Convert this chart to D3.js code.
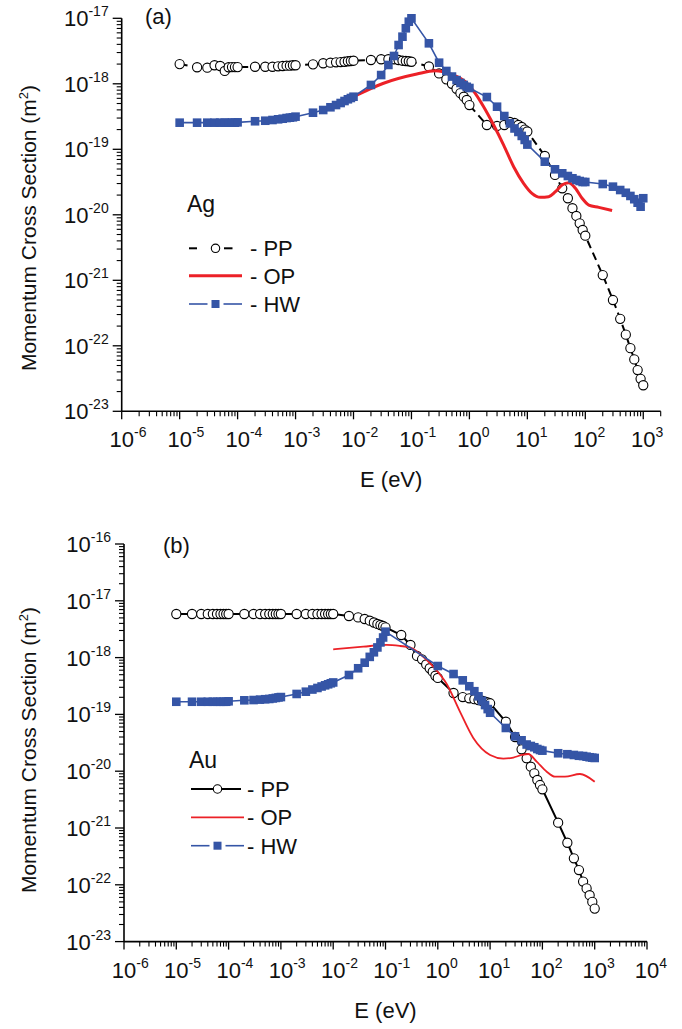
<!DOCTYPE html>
<html lang="en">
<head>
<meta charset="utf-8">
<title>Momentum cross sections, Ag and Au</title>
<script src="https://d3js.org/d3.v7.min.js"></script>
<style>
  body { margin: 0; background: #fff; }
  svg { font-family: "Liberation Sans", Arial, sans-serif; }
</style>
</head>
<body>
<svg width="682" height="1029"></svg>
<script>
// energy grid (eV) shared by the PP and HW curves
var energy = [
  1e-5,2e-5,3e-5,4e-5,5e-5,6e-5,7e-5,8e-5,9e-5,
  1e-4,2e-4,3e-4,4e-4,5e-4,6e-4,7e-4,8e-4,9e-4,
  1e-3,2e-3,3e-3,4e-3,5e-3,6e-3,7e-3,8e-3,9e-3,
  0.01,0.02,0.03,0.04,0.05,0.06,0.07,0.08,0.09,
  0.1,0.2,0.3,0.4,0.5,0.6,0.7,0.8,0.9,
  1,2,3,4,5,6,7,8,9,
  10,20,30,40,50,60,70,80,90,
  100,200,300,400,500,600,700,800,900,
  1000];

// (a) Ag
var agPP = [
  2.00e-18,1.79e-18,1.76e-18,1.92e-18,1.87e-18,1.57e-18,1.79e-18,1.80e-18,1.80e-18,
  1.80e-18,1.82e-18,1.82e-18,1.82e-18,1.85e-18,1.87e-18,1.89e-18,1.89e-18,1.92e-18,
  1.92e-18,1.98e-18,2.06e-18,2.10e-18,2.13e-18,2.15e-18,2.17e-18,2.21e-18,2.23e-18,
  2.25e-18,2.31e-18,2.37e-18,2.37e-18,2.37e-18,2.31e-18,2.25e-18,2.23e-18,2.21e-18,
  2.17e-18,1.84e-18,1.44e-18,1.17e-18,1.00e-18,8.4e-19,7.2e-19,6.35e-19,5.66e-19,
  4.74e-19,2.35e-19,2.27e-19,2.35e-19,2.61e-19,2.52e-19,2.35e-19,2.19e-19,2.00e-19,
  1.87e-19,7.9e-20,4.06e-20,2.54e-20,1.79e-20,1.26e-20,9.6e-21,7.4e-21,5.86e-21,
  4.8e-21,1.2e-21,5.0e-22,2.58e-22,1.48e-22,9.2e-23,6.2e-23,4.26e-23,3.13e-23,
  2.5e-23];
var agHW = [
  2.55e-19,2.55e-19,2.55e-19,2.55e-19,2.55e-19,2.55e-19,2.55e-19,2.55e-19,2.55e-19,
  2.58e-19,2.68e-19,2.73e-19,2.80e-19,2.87e-19,2.93e-19,3.00e-19,3.04e-19,3.08e-19,
  3.15e-19,3.62e-19,3.98e-19,4.38e-19,4.74e-19,5.09e-19,5.46e-19,5.80e-19,6.07e-19,
  6.35e-19,9.6e-19,1.36e-18,1.94e-18,2.66e-18,3.91e-18,5.24e-18,7.04e-18,8.87e-18,
  1.0e-17,4.15e-18,2.10e-18,1.57e-18,1.29e-18,1.14e-18,1.03e-18,9.6e-19,9.0e-19,
  8.63e-19,6.28e-19,4.47e-19,3.22e-19,2.49e-19,2.08e-19,1.84e-19,1.60e-19,1.39e-19,
  1.18e-19,6.47e-20,4.95e-20,4.3e-20,3.91e-20,3.61e-20,3.40e-20,3.28e-20,3.17e-20,
  3.17e-20,2.95e-20,2.69e-20,2.39e-20,2.17e-20,1.94e-20,1.73e-20,1.53e-20,1.33e-20,
  1.79e-20];
var agOpEnergy = [0.01,0.033,0.124,0.258,0.468,0.85,1.26,1.76,2.62,3.9,5.8,8.6,12.0,16.8,23.3,30.5,39.7,51.6,67.5,88,115,171,290];
var agOP = [6.35e-19,1.02e-18,1.41e-18,1.58e-18,1.41e-18,1.08e-18,7.16e-19,4.47e-19,2.35e-19,1.16e-19,5.42e-20,3.03e-20,2.13e-20,1.85e-20,1.89e-20,2.25e-20,2.85e-20,3.09e-20,2.54e-20,1.79e-20,1.41e-20,1.30e-20,1.16e-20];

// (b) Au
var auPP = [
  5.86e-18,5.86e-18,5.86e-18,5.86e-18,5.86e-18,5.86e-18,5.86e-18,5.86e-18,5.86e-18,
  5.86e-18,5.86e-18,5.86e-18,5.86e-18,5.86e-18,5.86e-18,5.86e-18,5.86e-18,5.86e-18,
  5.86e-18,5.86e-18,5.86e-18,5.86e-18,5.86e-18,5.86e-18,5.86e-18,5.86e-18,5.86e-18,
  5.86e-18,5.4e-18,5.1e-18,4.78e-18,4.46e-18,4.15e-18,3.91e-18,3.75e-18,3.6e-18,
  3.41e-18,2.5e-18,1.67e-18,1.07e-18,9.33e-19,7.57e-19,6.49e-19,5.65e-19,4.79e-19,
  4.38e-19,2.38e-19,2.02e-19,1.92e-19,1.85e-19,1.79e-19,1.74e-19,1.67e-19,1.62e-19,
  1.57e-19,7.43e-20,4.0e-20,2.43e-20,1.69e-20,1.2e-20,9.18e-21,7.0e-21,5.71e-21,
  4.8e-21,1.24e-21,5.5e-22,2.93e-22,1.82e-22,1.14e-22,8.65e-23,6.56e-23,5.0e-23,
  3.81e-23];
var auHwEnergy = [
  1e-5,2e-5,3e-5,4e-5,5e-5,6e-5,7e-5,8e-5,9e-5,
  1e-4,2e-4,3e-4,4e-4,5e-4,6e-4,7e-4,8e-4,9e-4,
  1e-3,2e-3,3e-3,4e-3,5e-3,6e-3,7e-3,8e-3,9e-3,
  0.01,0.02,0.03,0.04,0.05,0.06,0.07,0.08,0.09,
  0.1,
  1,2,3,4,5,6,7,8,9,
  10,20,30,40,50,60,70,80,90,
  100,200,300,400,500,600,700,800,900,
  1000];
var auHW = [
  1.67e-19,1.67e-19,1.67e-19,1.67e-19,1.67e-19,1.67e-19,1.67e-19,1.67e-19,1.67e-19,
  1.70e-19,1.77e-19,1.79e-19,1.82e-19,1.85e-19,1.87e-19,1.91e-19,1.95e-19,1.99e-19,
  2.02e-19,2.29e-19,2.51e-19,2.74e-19,2.92e-19,3.10e-19,3.25e-19,3.39e-19,3.53e-19,
  3.65e-19,4.94e-19,6.49e-19,8.13e-19,1.03e-18,1.24e-18,1.51e-18,1.85e-18,2.26e-18,
  2.86e-18,
  7.11e-19,5.14e-19,3.98e-19,3.13e-19,2.56e-19,2.08e-19,1.73e-19,1.46e-19,1.24e-19,
  1.07e-19,5.77e-20,4.11e-20,3.50e-20,2.95e-20,2.78e-20,2.64e-20,2.46e-20,2.36e-20,
  2.30e-20,2.07e-20,1.99e-20,1.93e-20,1.87e-20,1.85e-20,1.80e-20,1.76e-20,1.73e-20,
  1.71e-20];
var auOpEnergy = [0.01,0.0376,0.105,0.19,0.294,0.457,0.82,1.48,2.65,4.77,10,17.9,27.8,40.2,53.7,77.8,121,174,270,523,1000];
var auOP = [1.40e-18,1.56e-18,1.67e-18,1.6e-18,1.51e-18,1.16e-18,6.92e-19,3.43e-19,1.12e-19,3.85e-20,1.93e-20,1.67e-20,1.74e-20,1.93e-20,2.01e-20,1.47e-20,9.8e-21,8.0e-21,8.0e-21,8.93e-21,6.53e-21];

// axis tick exponents
var agXExps = [-6,-5,-4,-3,-2,-1,0,1,2,3];
var agYExps = [-23,-22,-21,-20,-19,-18,-17];
var auXExps = [-6,-5,-4,-3,-2,-1,0,1,2,3,4];
var auYExps = [-23,-22,-21,-20,-19,-18,-17,-16];

var legendNames = ["PP", "OP", "HW"];

var RED = "#ec2127", BLUE = "#3555a6";
var svg = d3.select("svg");

function zip(xs, ys) { return xs.map(function(e, i){ return {e: e, s: ys[i]}; }); }

function drawPanel(p) {
  var g = svg.append("g");
  var x = d3.scaleLog().domain(p.xDomain).range([p.left, p.right]);
  var y = d3.scaleLog().domain(p.yDomain).range([p.bottom, p.top]);

  function minors(dom) {
    var out = [];
    var k0 = Math.floor(Math.log10(dom[0])), k1 = Math.ceil(Math.log10(dom[1]));
    for (var k = k0; k <= k1; k++)
      for (var m = 2; m <= 9; m++) {
        var v = m * Math.pow(10, k);
        if (v >= dom[0] * 0.999 && v <= dom[1] * 1.001) out.push(v);
      }
    return out;
  }

  // axes
  g.append("line").attr("x1", p.left).attr("x2", p.right).attr("y1", p.bottom).attr("y2", p.bottom)
    .attr("stroke", "#000").attr("stroke-width", 1.6);
  g.append("line").attr("x1", p.left).attr("x2", p.left).attr("y1", p.bottom).attr("y2", p.top)
    .attr("stroke", "#000").attr("stroke-width", 1.6);

  g.selectAll(".xmaj").data(p.xExps).join("line")
    .attr("x1", d => x(Math.pow(10, d))).attr("x2", d => x(Math.pow(10, d)))
    .attr("y1", p.bottom).attr("y2", p.bottom + 8).attr("stroke", "#000").attr("stroke-width", 1.3);
  g.selectAll(".xmin").data(minors(p.xDomain)).join("line")
    .attr("x1", d => x(d)).attr("x2", d => x(d))
    .attr("y1", p.bottom).attr("y2", p.bottom + 5).attr("stroke", "#000").attr("stroke-width", 1.1);
  g.selectAll(".ymaj").data(p.yExps).join("line")
    .attr("y1", d => y(Math.pow(10, d))).attr("y2", d => y(Math.pow(10, d)))
    .attr("x1", p.left).attr("x2", p.left - 9).attr("stroke", "#000").attr("stroke-width", 1.3);
  g.selectAll(".ymin").data(minors(p.yDomain)).join("line")
    .attr("y1", d => y(d)).attr("y2", d => y(d))
    .attr("x1", p.left).attr("x2", p.left - 5).attr("stroke", "#000").attr("stroke-width", 1.1);

  // tick labels: 10 with a superscript exponent
  g.selectAll(".xl").data(p.xExps).join("text")
    .attr("x", d => x(Math.pow(10, d)) - 12.2).attr("y", p.bottom + 36)
    .attr("font-size", 22).attr("fill", "#111")
    .each(function(d) {
      var t = d3.select(this);
      t.append("tspan").text("10");
      t.append("tspan").attr("dy", -10).attr("font-size", 14).text(d);
    });
  g.selectAll(".yl").data(p.yExps).join("text")
    .attr("x", p.left - 13).attr("y", d => y(Math.pow(10, d)) + 8)
    .attr("text-anchor", "end").attr("font-size", 22).attr("fill", "#111")
    .each(function(d) {
      var t = d3.select(this);
      t.append("tspan").text("10");
      t.append("tspan").attr("dy", -10).attr("font-size", 14).text(d);
    });

  // axis titles
  g.append("text").attr("x", (p.left + p.right) / 2).attr("y", p.bottom + 76)
    .attr("text-anchor", "middle").attr("font-size", 22).attr("fill", "#111").text("E (eV)");
  var yt = g.append("text")
    .attr("transform", "translate(36," + p.titleY + ") rotate(-90)")
    .attr("text-anchor", "middle").attr("font-size", 21).attr("fill", "#111");
  yt.append("tspan").text("Momentum Cross Section (m");
  yt.append("tspan").attr("dy", -8).attr("font-size", 13).text("2");
  yt.append("tspan").attr("dy", 8).text(")");

  g.append("text").attr("x", p.tagX).attr("y", p.tagY).attr("font-size", 22).attr("fill", "#111").text(p.tag);

  // PP : black line + open circles
  var pp = zip(energy, p.pp);
  var line = d3.line().x(d => x(d.e)).y(d => y(d.s));
  g.append("path").datum(pp).attr("d", line).attr("fill", "none")
    .attr("stroke", "#000").attr("stroke-width", 2)
    .attr("stroke-dasharray", p.ppDash ? "8,5" : null);
  g.selectAll(".pp").data(pp).join("circle")
    .attr("cx", d => x(d.e)).attr("cy", d => y(d.s)).attr("r", 4.6)
    .attr("fill", "#fff").attr("stroke", "#000").attr("stroke-width", 1.1);

  // OP : smooth red curve
  var op = zip(p.opE, p.op);
  g.append("path").datum(op)
    .attr("d", d3.line().x(d => x(d.e)).y(d => y(d.s)).curve(d3.curveMonotoneX))
    .attr("fill", "none").attr("stroke", RED).attr("stroke-width", p.opWidth);

  // HW : blue line + filled squares
  var hw = zip(p.hwE, p.hw);
  g.append("path").datum(hw).attr("d", line).attr("fill", "none")
    .attr("stroke", BLUE).attr("stroke-width", 1.6);
  g.selectAll(".hw").data(hw).join("rect")
    .attr("x", d => x(d.e) - 4.3).attr("y", d => y(d.s) - 4.3)
    .attr("width", 8.6).attr("height", 8.6).attr("fill", BLUE);

  // legend
  var L = p.legend;
  g.append("text").attr("x", L.x).attr("y", L.titleY).attr("font-size", 23).attr("fill", "#111").text(p.element);
  legendNames.forEach(function(name, i) {
    var ly = L.rowY[i], lx0 = L.x + 2, lx1 = L.x + 55, mid = L.x + 28.5;
    if (name === "PP") {
      if (p.ppDash) {
        g.append("line").attr("x1", lx0).attr("x2", lx0 + 8).attr("y1", ly).attr("y2", ly).attr("stroke", "#000").attr("stroke-width", 2);
        g.append("line").attr("x1", mid + 8.5).attr("x2", mid + 17).attr("y1", ly).attr("y2", ly).attr("stroke", "#000").attr("stroke-width", 2);
      } else {
        g.append("line").attr("x1", lx0).attr("x2", lx1 - 3).attr("y1", ly).attr("y2", ly).attr("stroke", "#000").attr("stroke-width", 2);
      }
      g.append("circle").attr("cx", mid).attr("cy", ly).attr("r", 4.2).attr("fill", "#fff").attr("stroke", "#000").attr("stroke-width", 1.1);
    } else if (name === "OP") {
      g.append("line").attr("x1", lx0).attr("x2", lx1).attr("y1", ly).attr("y2", ly).attr("stroke", RED).attr("stroke-width", p.opWidth);
    } else {
      g.append("line").attr("x1", lx0).attr("x2", mid - 8).attr("y1", ly).attr("y2", ly).attr("stroke", BLUE).attr("stroke-width", 1.6);
      g.append("line").attr("x1", mid + 8).attr("x2", lx1).attr("y1", ly).attr("y2", ly).attr("stroke", BLUE).attr("stroke-width", 1.6);
      g.append("rect").attr("x", mid - 4).attr("y", ly - 4).attr("width", 8).attr("height", 8).attr("fill", BLUE);
    }
    g.append("text").attr("x", L.textX).attr("y", ly + 8).attr("font-size", 22).attr("fill", "#111").text("- " + name);
  });
}

drawPanel({
  left: 121.7, right: 660.7, top: 18.3, bottom: 411.3,
  xDomain: [1e-6, 2e3], yDomain: [1e-23, 1e-17],
  xExps: agXExps, yExps: agYExps,
  tag: "(a)", tagX: 145, tagY: 24, element: "Ag", titleY: 228,
  pp: agPP, ppDash: true,
  opE: agOpEnergy, op: agOP, opWidth: 3,
  hwE: energy, hw: agHW,
  legend: { x: 187, titleY: 212, rowY: [248.3, 275.7, 304], textX: 250 }
});

drawPanel({
  left: 124, right: 647, top: 544, bottom: 941.6,
  xDomain: [1e-6, 1e4], yDomain: [1e-23, 1e-16],
  xExps: auXExps, yExps: auYExps,
  tag: "(b)", tagX: 163, tagY: 553, element: "Au", titleY: 750,
  pp: auPP, ppDash: false,
  opE: auOpEnergy, op: auOP, opWidth: 1.8,
  hwE: auHwEnergy, hw: auHW,
  legend: { x: 189, titleY: 768.3, rowY: [789, 817.3, 845.7], textX: 247 }
});
</script>
</body>
</html>
